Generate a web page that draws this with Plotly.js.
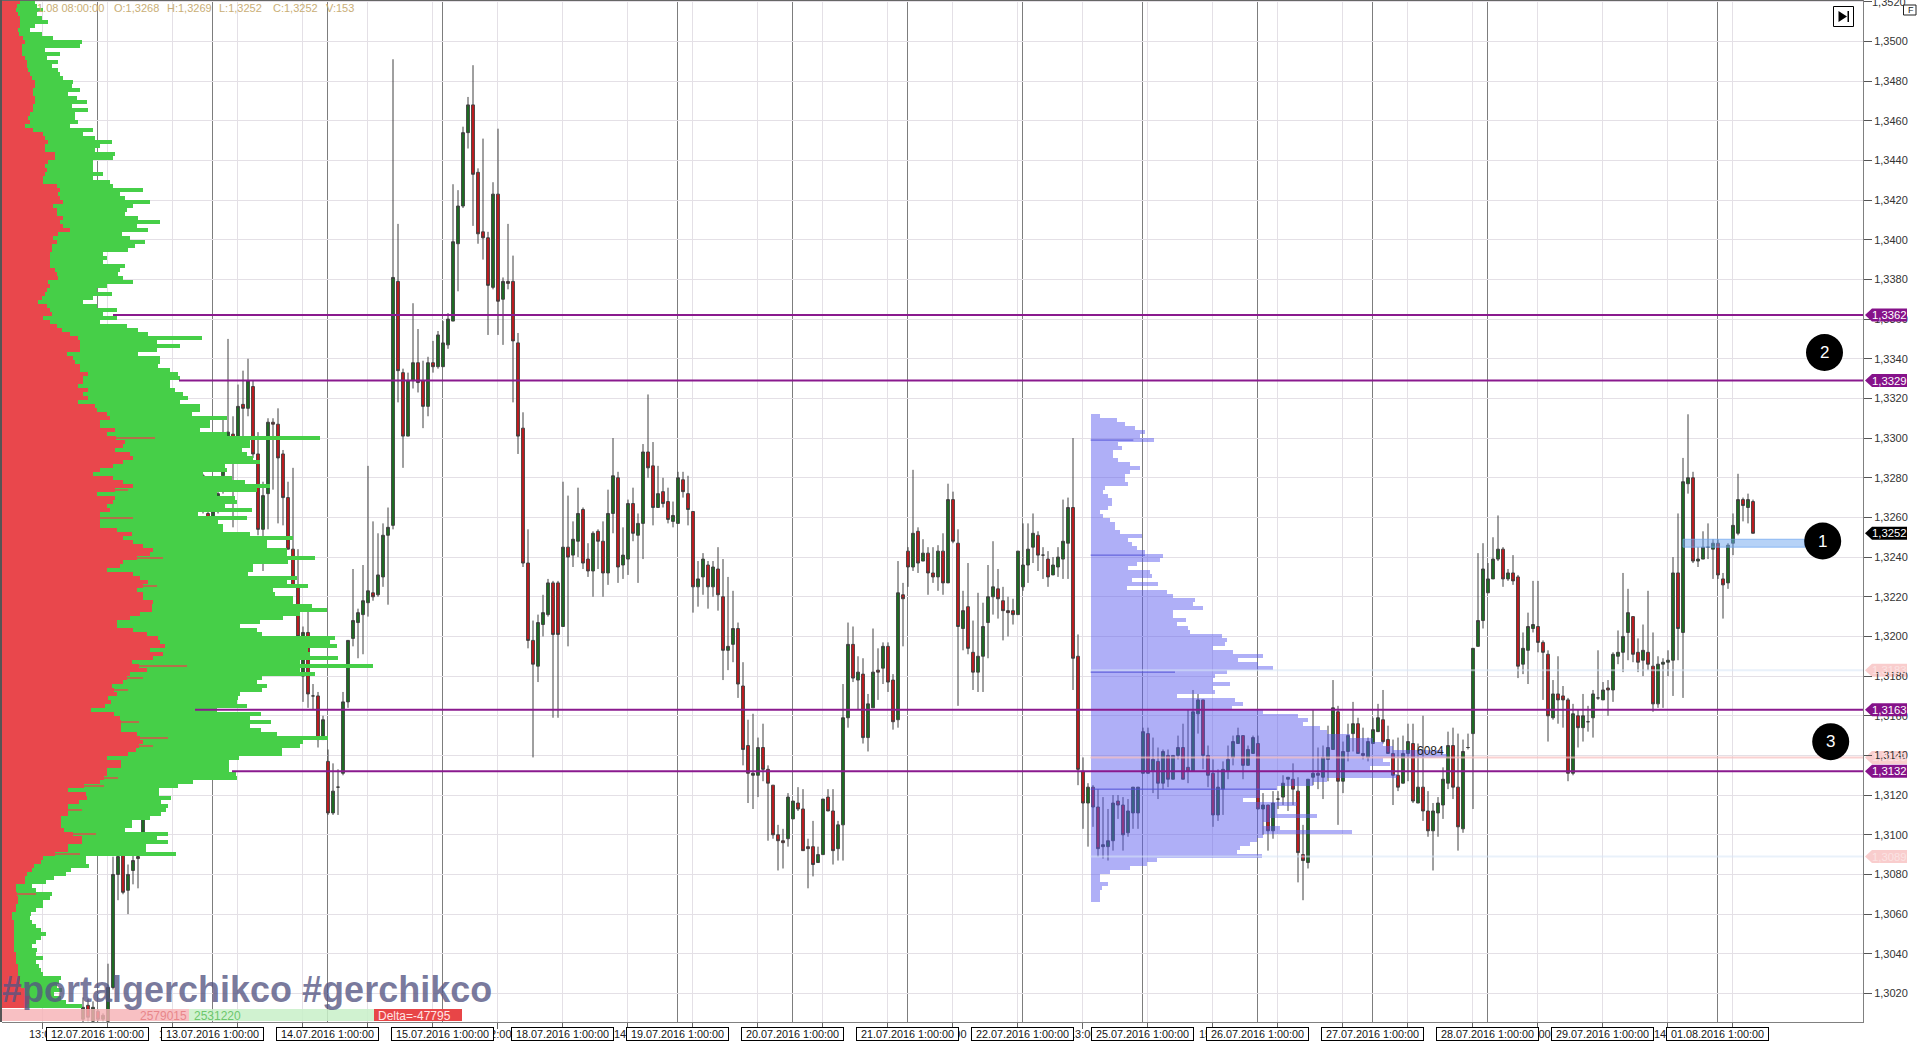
<!DOCTYPE html>
<html><head><meta charset="utf-8"><title>Chart</title>
<script src="https://cdn.plot.ly/plotly-3.0.1.min.js"></script>
<style>html,body{margin:0;padding:0;background:#fff;overflow:hidden}#c{width:1920px;height:1042px}</style>
</head><body><div id="c"></div>
<script>
// Candles are numbered from the first visible one; prices in units of 0.0001.
const firstCandle = -3;
const candleOpen = [
13007,13014,13006,13011,13007,13006,13023,13080,13090,13072,
13082,13089,13101,13122,13140,13165,13180,13200,13225,13250,
13270,13283,13283,13283,13281,13262,13257,13270,13281,13300,
13302,13300,13317,13315,13326,13292,13254,13272,13308,13307,
13292,13270,13244,13226,13180,13202,13170,13170,13148,13137,
13111,13124,13131,13167,13199,13207,13211,13217,13222,13221,
13230,13251,13256,13379,13333,13301,13329,13338,13329,13316,
13338,13336,13336,13347,13359,13398,13417,13454,13468,13434,
13404,13401,13376,13423,13370,13379,13379,13348,13305,13237,
13198,13185,13206,13211,13227,13227,13205,13245,13241,13248,
13264,13239,13233,13253,13248,13232,13262,13280,13236,13239,
13267,13251,13257,13293,13286,13265,13273,13268,13258,13257,
13279,13272,13263,13225,13230,13236,13225,13234,13220,13193,
13196,13204,13175,13145,13130,13130,13144,13133,13125,13100,
13097,13098,13108,13116,13113,13094,13094,13086,13090,13119,
13112,13093,13105,13159,13196,13178,13181,13149,13164,13183,
13184,13195,13178,13158,13221,13243,13235,13253,13238,13242,
13232,13230,13243,13227,13269,13247,13204,13215,13192,13182,
13190,13207,13220,13224,13218,13213,13213,13211,13225,13236,
13245,13251,13241,13239,13231,13235,13239,13247,13265,13190,
13132,13116,13124,13114,13094,13094,13097,13117,13115,13101,
13111,13111,13131,13151,13132,13137,13126,13140,13128,13140,
13144,13134,13132,13161,13168,13140,13131,13110,13123,13132,
13139,13146,13150,13135,13141,13146,13113,13115,13102,13118,
13119,13128,13128,13122,13090,13086,13129,13131,13129,13138,
13143,13162,13127,13142,13151,13156,13141,13139,13146,13152,
13158,13148,13141,13130,13126,13141,13146,13116,13124,13112,
13102,13111,13115,13126,13145,13124,13103,13144,13151,13195,
13208,13222,13229,13239,13244,13229,13232,13230,13186,13193,
13204,13205,13197,13191,13159,13171,13170,13168,13131,13160,
13154,13157,13159,13169,13168,13174,13173,13190,13192,13202,
13210,13192,13188,13192,13185,13166,13186,13187,13188,13232,
13202,13277,13280,13238,13239,13245,13244,13247,13229,13227,
13247,13252,13269,13265,13268];
const candleHigh = [
13018,13017,13016,13012,13010,13035,13089,13100,13098,13085,
13092,13095,13125,13145,13168,13185,13205,13230,13255,13272,
13285,13285,13285,13285,13282,13266,13266,13276,13310,13350,
13311,13327,13334,13340,13329,13303,13278,13310,13310,13315,
13294,13278,13285,13244,13205,13215,13176,13172,13160,13143,
13136,13133,13172,13198,13234,13214,13236,13286,13258,13252,
13257,13265,13491,13408,13335,13333,13368,13355,13339,13341,
13349,13354,13359,13363,13428,13425,13457,13472,13488,13436,
13451,13404,13429,13456,13381,13408,13392,13353,13313,13254,
13208,13211,13221,13229,13228,13228,13278,13271,13258,13275,
13265,13247,13253,13254,13258,13274,13300,13283,13255,13269,
13275,13262,13297,13322,13298,13286,13280,13275,13268,13283,
13283,13281,13263,13238,13242,13238,13238,13245,13239,13230,
13223,13207,13187,13158,13161,13149,13156,13135,13125,13105,
13103,13121,13117,13124,13123,13098,13107,13094,13118,13123,
13123,13107,13176,13207,13205,13190,13189,13171,13204,13194,
13197,13197,13181,13238,13227,13245,13284,13255,13249,13245,
13245,13246,13252,13277,13273,13254,13223,13237,13208,13222,
13217,13236,13248,13234,13225,13220,13219,13243,13257,13257,
13262,13253,13245,13243,13240,13245,13269,13270,13300,13201,
13139,13126,13125,13123,13119,13113,13120,13120,13119,13118,
13124,13124,13154,13154,13149,13144,13143,13143,13140,13150,
13156,13163,13173,13171,13168,13145,13138,13133,13137,13145,
13150,13154,13150,13145,13150,13150,13121,13115,13122,13122,
13130,13129,13136,13129,13105,13128,13163,13144,13145,13155,
13178,13165,13147,13156,13167,13159,13154,13149,13159,13166,
13173,13155,13148,13149,13150,13156,13156,13146,13160,13122,
13116,13119,13134,13152,13154,13151,13148,13151,13194,13242,
13247,13237,13250,13261,13245,13234,13241,13231,13202,13212,
13228,13228,13198,13193,13178,13190,13175,13169,13166,13163,
13171,13165,13173,13193,13177,13178,13192,13203,13232,13224,
13210,13199,13206,13223,13202,13190,13189,13193,13240,13262,
13290,13312,13283,13245,13253,13257,13249,13249,13232,13247,
13262,13282,13270,13272,13269];
const candleLow = [
13005,13006,13005,13006,13006,13005,13022,13067,13070,13060,
13075,13073,13095,13118,13135,13160,13175,13195,13220,13245,
13265,13278,13278,13278,13262,13255,13254,13262,13272,13298,
13255,13298,13300,13311,13290,13251,13233,13254,13274,13257,
13256,13244,13225,13198,13167,13164,13163,13144,13148,13110,
13110,13110,13130,13164,13195,13189,13191,13210,13218,13220,
13225,13216,13254,13318,13285,13301,13325,13323,13305,13311,
13333,13335,13336,13345,13359,13374,13416,13446,13407,13398,
13390,13352,13375,13352,13347,13375,13318,13292,13235,13194,
13139,13177,13200,13210,13159,13159,13205,13195,13235,13240,
13234,13230,13220,13234,13220,13226,13252,13227,13229,13231,
13248,13227,13239,13280,13256,13265,13265,13257,13255,13257,
13270,13256,13212,13215,13221,13214,13220,13213,13178,13183,
13187,13169,13135,13116,13113,13119,13127,13097,13098,13082,
13083,13094,13108,13112,13092,13073,13079,13086,13090,13112,
13085,13087,13087,13154,13177,13163,13146,13142,13164,13168,
13176,13172,13153,13154,13195,13225,13233,13232,13238,13221,
13227,13223,13221,13227,13247,13165,13193,13191,13173,13172,
13172,13189,13211,13209,13198,13200,13206,13211,13223,13227,
13237,13233,13229,13225,13231,13230,13229,13229,13173,13125,
13103,13094,13104,13089,13088,13087,13092,13108,13092,13099,
13103,13103,13131,13131,13121,13118,13123,13124,13128,13138,
13128,13126,13132,13151,13133,13124,13104,13107,13110,13128,
13135,13146,13128,13135,13141,13113,13100,13092,13098,13113,
13115,13112,13115,13076,13067,13083,13125,13123,13118,13127,
13143,13105,13121,13137,13142,13141,13138,13137,13146,13152,
13146,13141,13115,13122,13126,13127,13116,13116,13107,13099,
13082,13099,13108,13123,13118,13092,13101,13143,13113,13195,
13204,13222,13229,13238,13225,13228,13226,13179,13181,13176,
13202,13192,13168,13147,13158,13156,13154,13127,13130,13144,
13147,13152,13149,13168,13168,13160,13167,13186,13182,13188,
13187,13182,13180,13183,13162,13164,13164,13180,13170,13188,
13169,13272,13237,13235,13239,13239,13229,13229,13209,13224,
13241,13251,13258,13257,13252];
const candleClose = [
13013,13008,13013,13007,13009,13023,13080,13089,13071,13080,
13087,13088,13122,13140,13165,13180,13200,13225,13250,13270,
13280,13281,13281,13281,13263,13257,13263,13272,13286,13303,
13300,13316,13315,13329,13292,13254,13271,13308,13307,13290,
13270,13244,13225,13200,13202,13171,13170,13148,13158,13111,
13122,13124,13167,13198,13208,13212,13218,13223,13220,13231,
13251,13255,13381,13334,13301,13329,13338,13328,13316,13338,
13336,13352,13348,13360,13399,13417,13454,13468,13433,13403,
13401,13377,13423,13369,13379,13378,13349,13301,13237,13198,
13186,13207,13212,13227,13201,13201,13245,13240,13249,13262,
13237,13233,13252,13248,13232,13262,13281,13235,13241,13267,
13252,13257,13293,13285,13265,13272,13267,13259,13261,13280,
13273,13264,13225,13229,13239,13225,13235,13221,13193,13195,
13204,13176,13143,13131,13131,13144,13133,13126,13100,13097,
13096,13119,13117,13113,13092,13093,13085,13090,13118,13112,
13092,13105,13159,13196,13179,13182,13149,13166,13182,13182,
13195,13177,13157,13222,13219,13235,13252,13237,13242,13232,
13230,13243,13227,13269,13248,13205,13213,13194,13182,13190,
13205,13220,13225,13219,13213,13212,13211,13243,13236,13244,
13252,13241,13241,13230,13236,13240,13248,13265,13189,13133,
13116,13124,13114,13093,13095,13097,13116,13115,13100,13112,
13124,13124,13152,13131,13138,13126,13142,13128,13140,13144,
13128,13132,13162,13168,13140,13130,13110,13124,13133,13138,
13147,13150,13135,13143,13149,13113,13115,13102,13116,13118,
13126,13129,13123,13091,13087,13128,13131,13130,13139,13144,
13164,13127,13142,13150,13156,13141,13140,13147,13153,13159,
13147,13141,13130,13124,13141,13147,13117,13124,13112,13102,
13112,13116,13128,13145,13124,13104,13142,13144,13194,13208,
13234,13229,13239,13244,13229,13232,13228,13185,13194,13205,
13206,13197,13192,13160,13171,13168,13168,13131,13161,13154,
13160,13157,13171,13169,13173,13173,13191,13192,13200,13212,
13191,13187,13193,13186,13166,13186,13187,13188,13232,13204,
13278,13280,13238,13239,13245,13245,13247,13231,13226,13246,
13256,13269,13266,13269,13252];

// Volume profile (left): estimated volume per price level, top level first.
const profileTopPrice = 13519.9, profileStep = 2.017;
const profileSell = [
60,50,48,55,60,60,60,55,58,68,
75,65,65,65,75,80,80,85,90,95,
105,105,100,100,105,105,100,100,90,85,
90,75,100,130,135,145,135,135,165,165,
145,135,140,135,130,130,170,180,175,180,
190,160,170,170,190,180,190,210,175,160,
170,155,155,150,150,150,150,165,170,175,
145,150,140,135,125,115,140,150,155,130,
150,170,185,210,235,240,240,240,
200,220,225,240,240,265,250,250,235,265,
250,265,235,285,290,320,330,300,300,345,
320,465,375,370,345,390,400,370,340,300,
280,340,370,400,385,290,345,340,320,330,
300,400,300,300,350,395,370,400,430,460,
450,490,370,360,320,400,420,445,470,410,
430,430,460,455,455,420,390,350,350,400,
440,475,480,495,450,490,460,395,560,440,
390,430,370,335,385,350,325,
332,316,273,343,359,418,364,364,412,503,
428,460,407,385,321,364,364,321,321,353,
300,311,203,257,262,236,203,246,203,182,
182,182,193,289,246,246,203,203,241,128,
123,102,96,80,75,75,48,48,107,54,
54,48,48,37,37,43,43,43,43,43,
43,43,43,48,48,48,54,54,54,59,
59,64,75,75,86,86,80];
const profileTotal = [
105,110,130,110,125,145,105,90,125,160,
245,240,135,180,140,175,155,175,180,190,
220,215,240,205,230,260,215,265,225,225,
235,210,280,250,285,335,300,285,345,340,
280,280,280,310,280,330,340,430,360,375,
450,400,380,375,415,480,410,445,365,390,
435,405,385,310,320,310,375,360,355,370,
400,320,290,335,280,250,290,350,310,350,
300,380,415,445,605,470,540,470,
415,480,480,475,510,535,540,510,510,525,
550,565,540,600,600,575,680,630,630,600,
680,960,750,750,725,740,760,780,675,680,
610,695,735,810,770,650,705,710,675,755,
595,740,655,670,670,750,880,800,800,860,
860,945,865,760,760,745,890,860,925,820,
825,880,880,935,980,900,850,780,720,770,
785,1005,990,1010,925,930,1015,900,1120,900,
945,785,770,800,785,720,715,
712,740,650,782,750,814,750,782,830,985,
910,900,846,846,718,686,686,686,707,712,
578,535,476,476,514,482,503,498,482,450,
396,396,375,503,471,503,439,439,528,257,
257,268,214,198,161,139,96,107,155,150,
128,128,107,94,91,96,107,123,137,123,
107,96,112,107,128,107,118,123,128,182,
177,171,187,161,182,198,246];

// Volume profile (blue, period from 25.07): estimated volume per level.
const blueTopPrice = 13311.1;
const blueVolume = [
28,78,103,133,163,148,190,83,93,68,
68,83,118,148,118,103,103,113,43,38,
53,63,63,53,28,38,58,73,73,88,
153,113,123,138,163,218,208,138,113,178,
183,123,203,108,228,248,313,308,336,248,
248,286,258,293,298,393,408,403,368,428,
518,443,503,548,408,373,368,418,368,373,
258,433,458,423,518,623,653,638,688,708,
778,848,878,908,1058,1068,878,898,838,908,
918,708,668,558,508,508,458,618,558,558,
678,538,518,568,783,518,498,478,448,438,
513,198,168,118,58,28,28,53,33,28,
28,28];
const bluePeakPrices = [13299,13241,13182,13123];
const bluePeakVolume = [128,163,253,558];

const dayCandles = [0,23,46,69,93,116,139,162,185,209,232,255,278,301,324];
const dayLabels = ["12.07.2016 1:00:00","13.07.2016 1:00:00","14.07.2016 1:00:00","15.07.2016 1:00:00","18.07.2016 1:00:00","19.07.2016 1:00:00","20.07.2016 1:00:00","21.07.2016 1:00:00","22.07.2016 1:00:00","25.07.2016 1:00:00","26.07.2016 1:00:00","27.07.2016 1:00:00","28.07.2016 1:00:00","29.07.2016 1:00:00","01.08.2016 1:00:00"];
const tickCandles = [-11,2,15,28,41,54,67,80,93,106,119,132,145,158,171,184,197,210,223,236,249,262,275,288,301,314,327];
const tickLabels = ["13:00","3:00","16:00","6:00","19:00","9:00","22:00","12:00","1:00","14:00","4:00","17:00","7:00","20:00","10:00","23:00","13:00","2:00","15:00","5:00","18:00","8:00","21:00","11:00","1:00","14:00","4:00"];

const levelPrices = [13362,13329,13163,13132];
const levelStartCandle = [3,16.2,19.4,26.8];
const faintPrices = [13183,13139,13089];
const currentPrice = 13252;
const zonePrices = [13245,13249];
const zoneCandles = [317,341.4];
const headerTexts = ["1.08 08:00:00","O:1,3268","H:1,3269","L:1,3252","C:1,3252","V:153"];
const headerPx = [36,113,166,218,272,325];

const P = v => v/10000;
const fmt = v => "1," + String(v).slice(1);
const W = 1861, H = 1022, L = 2;
const px = x => (x-L)/W, py = y => 1-y/H;
const xRange = [-19.2,353], yRange = [1.30056,1.352088];
const volRange = [6, 6+W*3];
const blueBase = 3272;
const cx = k => k-0.1;
const ff = '"Liberation Sans",Arial,sans-serif';

const candleX = candleOpen.map((_,i)=>firstCandle+i);
const red = '#C8171B', green = '#1A701F', wick = '#404040';
const levelY = profileSell.map((_,i)=>P(profileTopPrice-i*profileStep));
const sellNeighbour = profileSell.map((v,i)=>((profileSell[i-1]??v)+(profileSell[i+1]??v))/2);
const sellBody = profileSell.map((v,i)=>v-sellNeighbour[i]>35?sellNeighbour[i]:v);

const traces = [{
  type:'candlestick', x:candleX, open:candleOpen.map(P), high:candleHigh.map(P), low:candleLow.map(P), close:candleClose.map(P),
  xaxis:'x', yaxis:'y', whiskerwidth:0, hoverinfo:'skip',
  increasing:{line:{color:wick,width:1},fillcolor:green},
  decreasing:{line:{color:wick,width:1},fillcolor:red}
},{
  type:'bar', orientation:'h', xaxis:'x2', yaxis:'y2', hoverinfo:'skip',
  y:levelY, x:profileTotal.map((t,i)=>t-sellBody[i]), base:sellBody,
  width:P(profileStep), marker:{color:'#46CF48',line:{width:0}}
},{
  type:'bar', orientation:'h', xaxis:'x2', yaxis:'y2', hoverinfo:'skip',
  y:levelY, x:profileSell.map((v,i)=>v-sellBody[i]), base:sellBody,
  width:P(profileStep)*0.6, marker:{color:'#B5704A',line:{width:0}}
},{
  type:'bar', orientation:'h', xaxis:'x2', yaxis:'y2', hoverinfo:'skip',
  y:levelY, x:sellBody, base:0,
  width:P(profileStep), marker:{color:'#E9474C',line:{width:0}}
},{
  type:'bar', orientation:'h', xaxis:'x2', yaxis:'y2', hoverinfo:'skip', opacity:0.48,
  y:blueVolume.map((_,i)=>P(blueTopPrice-i*profileStep)), x:blueVolume, base:blueBase,
  width:P(profileStep), marker:{color:'rgb(90,90,240)',line:{width:0}}
}];

const shapes = [];
dayCandles.forEach(k=>shapes.push({type:'line',layer:'below',xref:'x',yref:'paper',x0:cx(k),x1:cx(k),y0:0,y1:1,line:{color:'#7d7d7d',width:1}}));
faintPrices.forEach((p,i)=>shapes.push({type:'line',layer:'above',xref:'x',yref:'y',x0:198.5,x1:xRange[1],y0:P(p),y1:P(p),
  line:{color:i==1?'rgba(248,190,190,0.7)':'rgba(215,230,245,0.55)',width:2}}));
bluePeakPrices.forEach((p,i)=>shapes.push({type:'line',layer:'above',xref:'x2',yref:'y2',x0:blueBase,x1:blueBase+bluePeakVolume[i],y0:P(p),y1:P(p),line:{color:'#5252d6',width:1}}));
levelPrices.forEach((p,i)=>shapes.push({type:'line',layer:'above',xref:'x',yref:'y',x0:levelStartCandle[i],x1:xRange[1],y0:P(p),y1:P(p),line:{color:'#8A1A8E',width:2}}));
shapes.push({type:'rect',layer:'above',xref:'x',yref:'y',x0:zoneCandles[0],x1:zoneCandles[1],y0:P(zonePrices[0]),y1:P(zonePrices[1]),fillcolor:'rgba(110,165,240,0.5)',line:{color:'rgba(110,165,240,0.7)',width:1}});
const tagPath = 'M 2 0 L 9 -6.5 L 44 -6.5 L 44 6.5 L 9 6.5 Z';
function tag(p,fill,layer){shapes.push({type:'path',layer:layer,xref:'paper',yref:'y',xsizemode:'pixel',ysizemode:'pixel',xanchor:1,yanchor:P(p),path:tagPath,fillcolor:fill,line:{width:0}});}
faintPrices.forEach(p=>tag(p,'#F9CDCD','below'));
levelPrices.forEach(p=>tag(p,'#86128A','above'));
tag(currentPrice,'#000000','above');
shapes.push({type:'line',layer:'above',xref:'paper',yref:'paper',x0:px(1),x1:px(1),y0:0,y1:py(0),line:{color:'#555',width:2}});
shapes.push({type:'line',layer:'above',xref:'paper',yref:'paper',x0:0,x1:1,y0:py(0.5),y1:py(0.5),line:{color:'#666',width:1}});
function rectPx(x0,x1,y0,y1,fill,line){shapes.push({type:'rect',layer:'above',xref:'paper',yref:'paper',x0:px(x0),x1:px(x1),y0:py(y1),y1:py(y0),fillcolor:fill,line:line||{width:0}});}
rectPx(2,189,1009,1021,'rgba(246,178,182,0.82)');
rectPx(189,374,1009,1021,'rgba(200,240,200,0.85)');
rectPx(374,462,1009,1021,'#E84547');
const circles=[[1822.7,541,'1'],[1824.5,352.5,'2'],[1830.7,741.7,'3']];
circles.forEach(c=>shapes.push({type:'circle',layer:'above',xref:'paper',yref:'paper',x0:px(c[0]-18.5),x1:px(c[0]+18.5),y0:py(c[1]+18.5),y1:py(c[1]-18.5),fillcolor:'#000',line:{width:0}}));
rectPx(1833.5,1853.5,6.5,26.5,'#fff',{color:'#000',width:1});
shapes.push({type:'path',layer:'above',xref:'paper',yref:'paper',path:`M ${px(1838.5)} ${py(11)} L ${px(1847)} ${py(16.5)} L ${px(1838.5)} ${py(22)} Z`,fillcolor:'#000',line:{width:0}});
rectPx(1847.5,1849,11,22,'#000');
rectPx(1903.5,1916,5,15,'#fff',{color:'#222',width:1});

const ann = [];
const T = (text,x,y,size,color,extra)=>ann.push(Object.assign({text,xref:'paper',yref:'paper',x:px(x),y:py(y),xanchor:'left',yanchor:'middle',showarrow:false,font:{family:ff,size,color},borderpad:0},extra||{}));
headerTexts.forEach((t,i)=>T(t,headerPx[i],8,11,'#C9AE76'));
tickLabels.forEach((t,i)=>ann.push({text:t,xref:'x',yref:'paper',x:cx(tickCandles[i]),y:py(1034),xanchor:'center',yanchor:'middle',showarrow:false,font:{family:ff,size:11,color:'#222'}}));
dayLabels.forEach((t,i)=>ann.push({text:t,xref:'x',yref:'paper',x:cx(dayCandles[i]),y:py(1033.7),xanchor:'center',yanchor:'middle',showarrow:false,
  font:{family:ff,size:10.8,color:'#111'},bgcolor:'#fff',bordercolor:'#000',borderwidth:1,borderpad:0,width:101,height:12}));
T('1,3520',1871,2,11,'#333');
const tagText = (p,c)=>ann.push({text:fmt(p),xref:'paper',yref:'y',x:px(1869.5),y:P(p),xanchor:'left',yanchor:'middle',showarrow:false,font:{family:ff,size:11.3,color:c}});
levelPrices.forEach(p=>tagText(p,'#fff'));
faintPrices.forEach(p=>tagText(p,'#FBE3E3'));
tagText(currentPrice,'#fff');
circles.forEach(c=>T(c[2],c[0],c[1],17,'#fff',{xanchor:'center'}));
T('F',1906.5,10,9,'#222');
T('2579015',188,1016,12,'#E8868A',{xanchor:'right'});
T('2531220',193,1016,12,'#6CC76C');
T('Delta=-47795',377,1016,12,'#FFE4E4');
T('6084',1416,750.7,12,'#222');
T('#portalgerchikco #gerchikco',1,989,36,'rgba(85,85,130,0.78)',{font:{family:ff,size:36,color:'rgba(85,85,130,0.78)',weight:700}});

const layout = {
  width:1920,height:1042,margin:{l:2,r:57,t:0,b:20,pad:0},
  paper_bgcolor:'#fff',plot_bgcolor:'#fff',showlegend:false,separators:', ',
  barmode:'overlay',bargap:0,boxgap:0.2,dragmode:false,hovermode:false,
  xaxis:{type:'linear',range:xRange,rangeslider:{visible:false},tickmode:'array',tickvals:tickCandles.map(k=>k-0.2),showticklabels:false,
    showgrid:true,gridcolor:'#E4E0E6',gridwidth:1,zeroline:false,ticks:'outside',ticklen:6,tickcolor:'#666',showline:true,linecolor:'#808080',linewidth:1,
    anchor:'y',automargin:false},
  yaxis:{side:'right',range:yRange,tick0:1.3,dtick:0.002,tickformat:'.4f',showgrid:true,gridcolor:'#E4E0E6',gridwidth:1,zeroline:false,
    ticks:'outside',ticklen:8,tickcolor:'#555',showline:true,linecolor:'#808080',linewidth:1,tickfont:{family:ff,size:11,color:'#333'},anchor:'x',automargin:false},
  xaxis2:{overlaying:'x',range:volRange,visible:false,anchor:'y2'},
  yaxis2:{overlaying:'y',range:yRange,visible:false,anchor:'x2'},
  shapes,annotations:ann
};
Plotly.newPlot('c',traces,layout,{staticPlot:true,displayModeBar:false});
</script></body></html>
